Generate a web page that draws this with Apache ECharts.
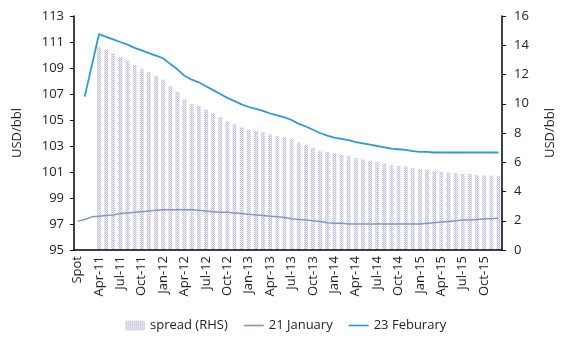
<!DOCTYPE html>
<html>
<head>
<meta charset="utf-8">
<script src="https://cdn.jsdelivr.net/npm/echarts@6/dist/echarts.min.js"></script>
<style>
  html, body { margin: 0; padding: 0; background: #fff; }
  #chart { width: 570px; height: 337px; }
</style>
</head>
<body>
<div id="chart"></div>
<script>
// categories: Spot then monthly contracts Feb-11 .. Dec-15
var months = ['Jan', 'Feb', 'Mar', 'Apr', 'May', 'Jun', 'Jul', 'Aug', 'Sep', 'Oct', 'Nov', 'Dec'];
var categories = ['Spot'];
for (var y = 11; y <= 15; y++) {
    for (var m = 0; m < 12; m++) {
        if (y === 11 && m === 0) continue;
        categories.push(months[m] + '-' + y);
    }
}

// left axis, USD/bbl
var jan21 = [97.2, 97.35, 97.55, 97.6, 97.65, 97.7, 97.8, 97.85, 97.9, 97.95,
    98.0, 98.05, 98.1, 98.1, 98.1, 98.1, 98.1, 98.05, 98.0, 97.95,
    97.9, 97.9, 97.85, 97.8, 97.75, 97.7, 97.65, 97.6, 97.55, 97.5,
    97.4, 97.35, 97.3, 97.25, 97.2, 97.1, 97.05, 97.05, 97.0, 97.0,
    97.0, 97.0, 97.0, 97.0, 97.0, 97.0, 97.0, 97.0, 97.0, 97.05,
    97.1, 97.15, 97.2, 97.25, 97.3, 97.3, 97.35, 97.4, 97.4, 97.45];

var feb23 = [null, 106.8, null, 111.6, 111.4, 111.2, 111.0, 110.8, 110.55, 110.35,
    110.15, 109.95, 109.75, 109.3, 108.9, 108.4, 108.1, 107.9, 107.6, 107.3,
    107.0, 106.7, 106.45, 106.2, 106.0, 105.85, 105.7, 105.5, 105.35, 105.2,
    105.0, 104.7, 104.5, 104.25, 104.0, 103.8, 103.65, 103.55, 103.45, 103.3,
    103.2, 103.1, 103.0, 102.9, 102.8, 102.75, 102.7, 102.6, 102.55, 102.55,
    102.5, 102.5, 102.5, 102.5, 102.5, 102.5, 102.5, 102.5, 102.5, 102.5];

// right axis, spread
var spread = [null, null, null, 13.9, 13.7, 13.45, 13.2, 12.95, 12.65, 12.4,
    12.15, 11.9, 11.65, 11.2, 10.8, 10.3, 10.0, 9.85, 9.6, 9.35,
    9.1, 8.8, 8.6, 8.4, 8.25, 8.15, 8.05, 7.9, 7.8, 7.7,
    7.6, 7.35, 7.2, 7.0, 6.8, 6.7, 6.6, 6.5, 6.45, 6.3,
    6.2, 6.1, 6.0, 5.9, 5.8, 5.75, 5.7, 5.6, 5.55, 5.5,
    5.4, 5.35, 5.3, 5.25, 5.2, 5.2, 5.15, 5.1, 5.1, 5.05];

// dotted fill like the excel pattern
var pat = document.createElement('canvas');
pat.width = 2; pat.height = 2;
var pc = pat.getContext('2d');
pc.fillStyle = '#ffffff'; pc.fillRect(0, 0, 2, 2);
pc.fillStyle = '#bcbcec'; pc.fillRect(0, 0, 1, 1);
pc.fillStyle = '#c4c4c4'; pc.fillRect(1, 1, 1, 1);
pc.fillStyle = '#e4e4f4'; pc.fillRect(1, 0, 1, 1);

var lineIcon = 'path://M0,0L24,0L24,2L0,2Z';
var font = 'Open Sans';
var chart = echarts.init(document.getElementById('chart'));
chart.setOption({
    animation: false,
    textStyle: { fontFamily: font, color: '#222' },
    grid: { left: 74, right: 68, top: 16, bottom: 87 },
    legend: {
        bottom: 0,
        left: 120,
        itemGap: 16,
        itemWidth: 20,
        itemHeight: 10,
        textStyle: { fontSize: 13, color: '#222', fontFamily: font },
        data: [
            { name: 'spread (RHS)' },
            { name: '21 January', icon: lineIcon, itemStyle: { color: '#8497c2' } },
            { name: '23 Feburary', icon: lineIcon, itemStyle: { color: '#2e9bd6' } }
        ]
    },
    xAxis: [{
        type: 'category',
        data: categories,
        boundaryGap: true,
        z: 10,
        axisLine: { lineStyle: { color: '#000', width: 1.5 } },
        axisTick: { interval: 0, length: 3, lineStyle: { color: '#000' } },
        axisLabel: { interval: 2, rotate: 90, fontSize: 13, color: '#222', margin: 6 }
    }, {
        type: 'category',
        data: categories,
        position: 'bottom',
        boundaryGap: true,
        z: 10,
        axisLine: { show: false },
        axisTick: { interval: 2, length: 6, lineStyle: { color: '#000' } },
        axisLabel: { show: false }
    }],
    yAxis: [{
        type: 'value',
        min: 95, max: 113, interval: 2,
        name: 'USD/bbl',
        nameLocation: 'middle',
        nameGap: 50,
        z: 10,
        nameTextStyle: { fontSize: 13, color: '#222' },
        axisLine: { show: true, lineStyle: { color: '#000', width: 1.5 } },
        axisTick: { show: true, length: 4, lineStyle: { color: '#000' } },
        axisLabel: { fontSize: 13, color: '#222', margin: 10 },
        splitLine: { show: false }
    }, {
        type: 'value',
        min: 0, max: 16, interval: 2,
        position: 'right',
        name: 'USD/bbl',
        nameLocation: 'middle',
        nameGap: 42,
        nameRotate: 90,
        z: 10,
        nameTextStyle: { fontSize: 13, color: '#222' },
        axisLine: { show: true, lineStyle: { color: '#000', width: 1.5 } },
        axisTick: { show: true, length: 4, lineStyle: { color: '#000' } },
        axisLabel: { fontSize: 13, color: '#222', margin: 12 },
        splitLine: { show: false }
    }],
    series: [{
        name: 'spread (RHS)',
        type: 'bar',
        yAxisIndex: 1,
        z: 1,
        data: spread,
        barWidth: '55%',
        itemStyle: { color: { image: pat, repetition: 'repeat' } }
    }, {
        name: '21 January',
        type: 'line',
        data: jan21,
        symbol: 'none',
        lineStyle: { color: '#8497c2', width: 1.5 },
        itemStyle: { color: '#8497c2' }
    }, {
        name: '23 Feburary',
        type: 'line',
        data: feb23,
        connectNulls: true,
        symbol: 'none',
        lineStyle: { color: '#2e9bd6', width: 1.8 },
        itemStyle: { color: '#2e9bd6' }
    }]
});
</script>
</body>
</html>
